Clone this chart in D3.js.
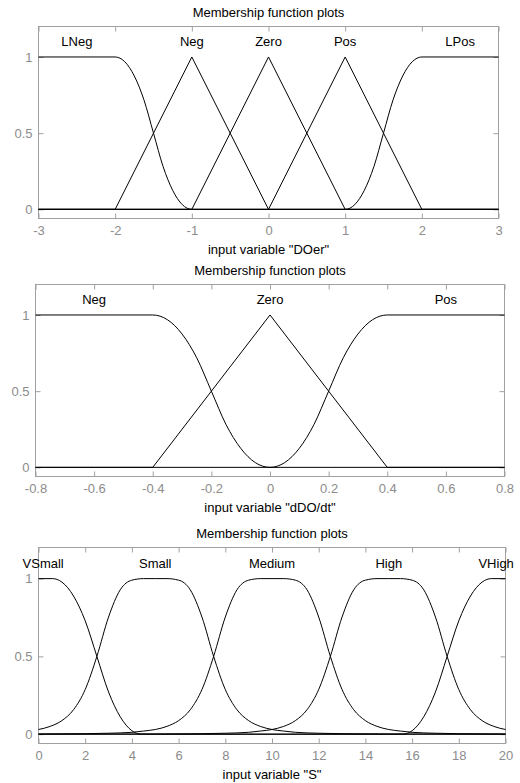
<!DOCTYPE html>
<meta charset="utf-8">
<style>
body { margin: 0; background: #fff; }
text { font-family: "Liberation Sans", Arial, sans-serif; font-size: 13px; fill: #000; }
.mf { fill: none; stroke: #000; stroke-width: 1; }
.frame { fill: none; stroke: #a0a0a0; stroke-width: 1; }
.tick line { stroke: #a0a0a0; }
.tick text { fill: #8c8c8c; }
</style>
<body>

<script src="https://cdn.jsdelivr.net/npm/d3@7/dist/d3.min.js"></script>
<script>

var yDomain = [-0.06, 1.2];
var yTicks = [0, 0.5, 1];
var yTickLabels = ["0", "0.5", "1"];
var labelLevel = 1.1;

// panel 1 : input variable "DOer"
var title1 = "Membership function plots";
var xlabel1 = 'input variable "DOer"';
var xDomain1 = [-3, 3];
var xTicks1 = [-3, -2, -1, 0, 1, 2, 3];
var xTickLabels1 = ["-3", "-2", "-1", "0", "1", "2", "3"];
var names1 = ["LNeg", "Neg", "Zero", "Pos", "LPos"];
var labelX1 = [-2.5, -1, 0, 1, 2.5];
var kinds1 = ["smooth", "line", "line", "line", "smooth"];
var lneg1 = [[-3,1],[-2,1],[-1.875,0.969],[-1.75,0.875],[-1.625,0.719],[-1.5,0.5],[-1.375,0.281],[-1.25,0.125],[-1.125,0.031],[-1,0],[3,0]];
var neg1 = [[-3,0],[-2,0],[-1,1],[0,0],[3,0]];
var zero1 = [[-3,0],[-1,0],[0,1],[1,0],[3,0]];
var pos1 = [[-3,0],[0,0],[1,1],[2,0],[3,0]];
var lpos1 = [[-3,0],[1,0],[1.125,0.031],[1.25,0.125],[1.375,0.281],[1.5,0.5],[1.625,0.719],[1.75,0.875],[1.875,0.969],[2,1],[3,1]];

// panel 2 : input variable "dDO/dt"
var title2 = "Membership function plots";
var xlabel2 = 'input variable "dDO/dt"';
var xDomain2 = [-0.8, 0.8];
var xTicks2 = [-0.8, -0.6, -0.4, -0.2, 0, 0.2, 0.4, 0.6, 0.8];
var xTickLabels2 = ["-0.8", "-0.6", "-0.4", "-0.2", "0", "0.2", "0.4", "0.6", "0.8"];
var names2 = ["Neg", "Zero", "Pos"];
var labelX2 = [-0.6, 0, 0.6];
var kinds2 = ["smooth", "line", "smooth"];
var neg2 = [[-0.8,1],[-0.4,1],[-0.35,0.969],[-0.3,0.875],[-0.25,0.719],[-0.2,0.5],[-0.15,0.281],[-0.1,0.125],[-0.05,0.031],[0,0],[0.8,0]];
var zero2 = [[-0.8,0],[-0.4,0],[0,1],[0.4,0],[0.8,0]];
var pos2 = [[-0.8,0],[0,0],[0.05,0.031],[0.1,0.125],[0.15,0.281],[0.2,0.5],[0.25,0.719],[0.3,0.875],[0.35,0.969],[0.4,1],[0.8,1]];

// panel 3 : input variable "S"
var title3 = "Membership function plots";
var xlabel3 = 'input variable "S"';
var xDomain3 = [0, 20];
var xTicks3 = [0, 2, 4, 6, 8, 10, 12, 14, 16, 18, 20];
var xTickLabels3 = ["0", "2", "4", "6", "8", "10", "12", "14", "16", "18", "20"];
var names3 = ["VSmall", "Small", "Medium", "High", "VHigh"];
var labelX3 = [0.2, 5, 10, 15, 19.6];
var kinds3 = ["smooth", "smooth", "smooth", "smooth", "smooth"];
var vsmall3 = [[0,1],[0.6,1],[1,0.978],[1.5,0.888],[2,0.729],[2.5,0.5],[3,0.271],[3.5,0.112],[4,0.022],[4.4,0],[20,0]];
var small3 = [[0,0.03],[0.5,0.05],[1,0.087],[1.5,0.157],[2,0.287],[2.5,0.5],[3,0.753],[3.5,0.928],[4,0.99],[4.5,1],[5,1],[5.5,1],[6,0.99],[6.5,0.928],[7,0.753],[7.5,0.5],[8,0.287],[8.5,0.157],[9,0.087],[9.5,0.05],[10,0.03],[10.5,0.02],[11,0.012],[12,0.006],[13,0.003],[15,0.001],[20,0]];
var medium3 = [[0,0.001],[2,0.003],[3,0.006],[4,0.012],[4.5,0.02],[5,0.03],[5.5,0.05],[6,0.087],[6.5,0.157],[7,0.287],[7.5,0.5],[8,0.753],[8.5,0.928],[9,0.99],[9.5,1],[10,1],[10.5,1],[11,0.99],[11.5,0.928],[12,0.753],[12.5,0.5],[13,0.287],[13.5,0.157],[14,0.087],[14.5,0.05],[15,0.03],[15.5,0.02],[16,0.012],[17,0.006],[18,0.003],[20,0.001]];
var high3 = [[0,0],[5,0.001],[7,0.003],[8,0.006],[9,0.012],[9.5,0.02],[10,0.03],[10.5,0.05],[11,0.087],[11.5,0.157],[12,0.287],[12.5,0.5],[13,0.753],[13.5,0.928],[14,0.99],[14.5,1],[15,1],[15.5,1],[16,0.99],[16.5,0.928],[17,0.753],[17.5,0.5],[18,0.287],[18.5,0.157],[19,0.087],[19.5,0.05],[20,0.03]];
var vhigh3 = [[0,0],[15.6,0],[16,0.022],[16.5,0.112],[17,0.271],[17.5,0.5],[18,0.729],[18.5,0.888],[19,0.978],[19.4,1],[20,1]];

var panels = [
  {title: title1, xlabel: xlabel1, xDomain: xDomain1, xTicks: xTicks1, xTickLabels: xTickLabels1,
   names: names1, labelX: labelX1, kinds: kinds1, curves: [lneg1, neg1, zero1, pos1, lpos1]},
  {title: title2, xlabel: xlabel2, xDomain: xDomain2, xTicks: xTicks2, xTickLabels: xTickLabels2,
   names: names2, labelX: labelX2, kinds: kinds2, curves: [neg2, zero2, pos2]},
  {title: title3, xlabel: xlabel3, xDomain: xDomain3, xTicks: xTicks3, xTickLabels: xTickLabels3,
   names: names3, labelX: labelX3, kinds: kinds3, curves: [vsmall3, small3, medium3, high3, vhigh3]}
];

// axes boxes, pixel edges of each plot frame
var boxes = [
  {left: 38.5, right: 498.5, top: 26.5, bottom: 218.5},
  {left: 35.5, right: 504.5, top: 284.5, bottom: 476.5},
  {left: 38.5, right: 505.5, top: 547.5, bottom: 743.5}
];

var svg = d3.select("body").append("svg")
    .attr("width", 520)
    .attr("height", 783);

panels.forEach(function(p, k) {
  var b = boxes[k];
  var x = d3.scaleLinear().domain(p.xDomain).range([b.left, b.right]);
  var y = d3.scaleLinear().domain(yDomain).range([b.bottom, b.top]);
  var g = svg.append("g");

  g.append("rect")
      .attr("class", "frame")
      .attr("x", b.left)
      .attr("y", b.top)
      .attr("width", b.right - b.left)
      .attr("height", b.bottom - b.top);

  var xb = g.append("g")
      .attr("transform", "translate(0," + b.bottom + ")")
      .call(d3.axisBottom(x).tickValues(p.xTicks)
        .tickFormat(function(d, i) { return p.xTickLabels[i]; })
        .tickSizeInner(-5).tickSizeOuter(0).tickPadding(7));
  var xt = g.append("g")
      .attr("transform", "translate(0," + b.top + ")")
      .call(d3.axisTop(x).tickValues(p.xTicks).tickFormat("")
        .tickSizeInner(-5).tickSizeOuter(0));
  var yl = g.append("g")
      .attr("transform", "translate(" + b.left + ",0)")
      .call(d3.axisLeft(y).tickValues(yTicks)
        .tickFormat(function(d, i) { return yTickLabels[i]; })
        .tickSizeInner(-5).tickSizeOuter(0).tickPadding(6));
  var yr = g.append("g")
      .attr("transform", "translate(" + b.right + ",0)")
      .call(d3.axisRight(y).tickValues(yTicks).tickFormat("")
        .tickSizeInner(-5).tickSizeOuter(0));
  [xb, xt, yl, yr].forEach(function(a) { a.select(".domain").remove(); });

  var line = d3.line()
      .x(function(d) { return x(d[0]); })
      .y(function(d) { return y(d[1]); });

  p.curves.forEach(function(c, i) {
    line.curve(p.kinds[i] == "smooth" ? d3.curveMonotoneX : d3.curveLinear);
    g.append("path")
        .attr("class", "mf")
        .attr("d", line(c));
  });

  g.selectAll(".mflabel")
      .data(p.names)
    .enter().append("text")
      .attr("class", "mflabel")
      .attr("x", function(d, i) { return x(p.labelX[i]); })
      .attr("y", y(labelLevel))
      .attr("dy", "0.35em")
      .attr("text-anchor", "middle")
      .text(function(d) { return d; });

  g.append("text")
      .attr("x", (b.left + b.right) / 2)
      .attr("y", b.top - 10)
      .attr("text-anchor", "middle")
      .text(p.title);

  g.append("text")
      .attr("x", (b.left + b.right) / 2)
      .attr("y", b.bottom + 35)
      .attr("text-anchor", "middle")
      .text(p.xlabel);
});

</script>
</body>
